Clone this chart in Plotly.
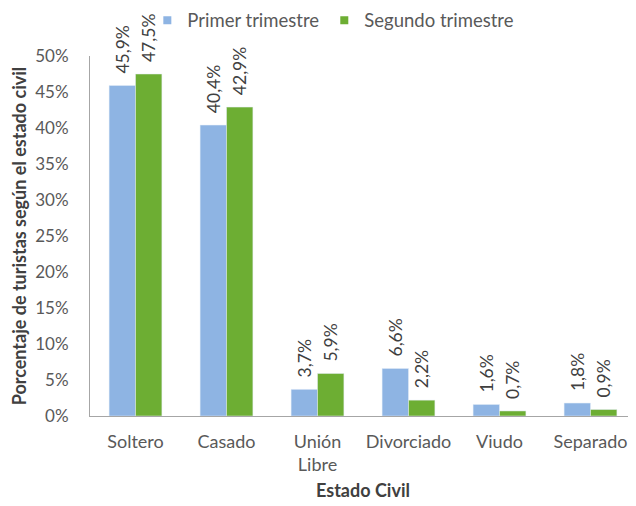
import plotly.graph_objects as go

categories = ["Soltero", "Casado", "Unión<br>Libre", "Divorciado", "Viudo", "Separado"]
primer = [45.9, 40.4, 3.7, 6.6, 1.6, 1.8]
segundo = [47.5, 42.9, 5.9, 2.2, 0.7, 0.9]
y_ticks = [0, 5, 10, 15, 20, 25, 30, 35, 40, 45, 50]
y_ticktext = [f"{v}%" for v in y_ticks]

FONT = "Lato"
GREY = "#595959"
BLUE = "#8EB4E3"
GREEN = "#6DAE33"
NBSP = "\u00a0"

fig = go.Figure()
for name, vals, col in [("Primer trimestre", primer, BLUE), ("Segundo trimestre", segundo, GREEN)]:
    fig.add_trace(go.Bar(
        x=categories, y=vals, name=name, showlegend=False,
        marker=dict(color=col),
        texttemplate=NBSP * 2 + "%{y:.1f}%", textposition="outside", textangle=-90,
        textfont=dict(family=FONT, size=17.5, color="#404040"),
        cliponaxis=False,
    ))
    fig.add_trace(go.Scatter(
        x=[None], y=[None], mode="markers", name=name,
        marker=dict(symbol="square", size=8, color=col),
    ))

fig.update_layout(
    width=628, height=498,
    separators=",.",
    barmode="group", bargap=0.42, bargroupgap=0.0,
    uniformtext=dict(minsize=17, mode="show"),
    paper_bgcolor="white", plot_bgcolor="white",
    margin=dict(l=82, r=0, t=48, b=90, autoexpand=False),
    font=dict(family=FONT, size=18, color=GREY),
    legend=dict(orientation="h", x=0.105, y=1.098, xref="paper", yref="paper",
                xanchor="left", yanchor="middle",
                bgcolor="rgba(0,0,0,0)",
                font=dict(family=FONT, size=18.5, color=GREY),
                itemwidth=30, traceorder="normal"),
    xaxis=dict(showline=True, linecolor="#A6A6A6", linewidth=1, ticks="",
               automargin=False, ticklabelstandoff=9,
               tickfont=dict(family=FONT, size=18, color=GREY),
               title=dict(text="<b>Estado Civil</b>", font=dict(family=FONT, size=18, color="#404040"), standoff=10)),
    yaxis=dict(range=[0, 50], tickvals=y_ticks, ticktext=y_ticktext, showgrid=False,
               showline=True, linecolor="#A6A6A6", linewidth=1, ticks="",
               zeroline=False, automargin=False, ticklabelstandoff=17,
               tickfont=dict(family=FONT, size=17, color=GREY),
               title=dict(text="<b>Porcentaje de turistas según el estado civil</b>",
                          font=dict(family=FONT, size=18, color="#404040"), standoff=9)),
)

fig.write_html("out.html")
